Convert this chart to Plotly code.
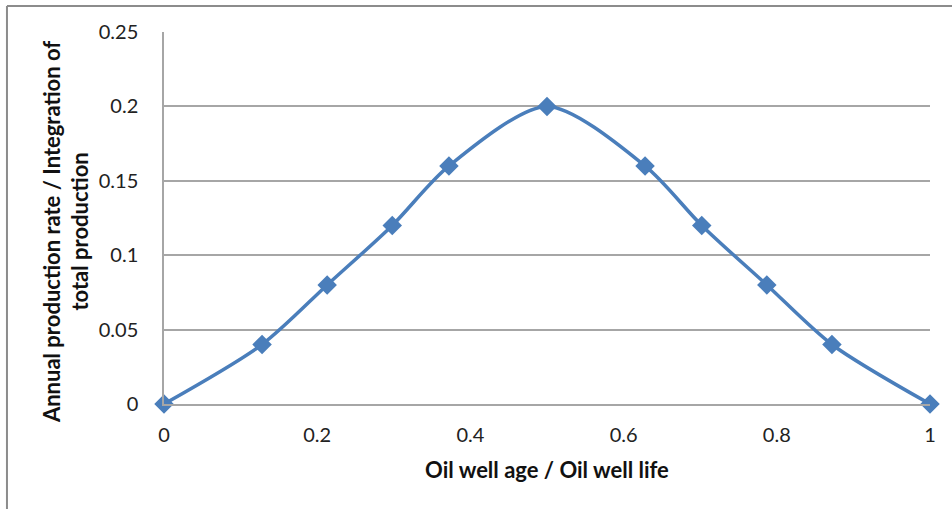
import plotly.graph_objects as go

x_vals = [0, 0.128, 0.213, 0.298, 0.372, 0.5, 0.628, 0.702, 0.787, 0.872, 1]
y_vals = [0, 0.04, 0.08, 0.12, 0.16, 0.2, 0.16, 0.12, 0.08, 0.04, 0]
x_ticks = [0, 0.2, 0.4, 0.6, 0.8, 1]
x_tick_text = ["0", "0.2", "0.4", "0.6", "0.8", "1"]
y_ticks = [0, 0.05, 0.1, 0.15, 0.2, 0.25]
y_tick_text = ["0", "0.05", "0.1", "0.15", "0.2", "0.25"]

fig = go.Figure()
fig.add_trace(go.Scatter(
    x=x_vals, y=y_vals, mode="lines+markers",
    line=dict(color="#4A7EBB", width=3.5, shape="spline", smoothing=0.8),
    marker=dict(symbol="diamond", size=15, color="#4A7EBB"),
    showlegend=False, cliponaxis=False,
))

font_family = "Lato, Carlito, 'Open Sans', sans-serif"
fig.update_layout(
    width=952, height=509,
    margin=dict(l=164, r=22, t=32, b=105),
    paper_bgcolor="white", plot_bgcolor="white",
    font=dict(family=font_family, color="#222222"),
    xaxis=dict(
        range=[0, 1], tickvals=x_ticks, ticktext=x_tick_text,
        showgrid=False, zeroline=False, showline=True, linecolor="#A6A6A6", linewidth=1.5,
        tickfont=dict(size=20, color="#222222"), ticks="", ticklabelstandoff=12,
        title=dict(text="<b>Oil well age / Oil well life</b>", font=dict(size=22, color="#111111"), standoff=18),
        fixedrange=True,
    ),
    yaxis=dict(
        range=[0, 0.25], tickvals=y_ticks, ticktext=y_tick_text,
        showgrid=True, gridcolor="#A6A6A6", gridwidth=1.5, zeroline=False,
        showline=True, linecolor="#A6A6A6", linewidth=1.5,
        tickfont=dict(size=20, color="#222222"), ticks="", ticklabelstandoff=20,
        fixedrange=True,
    ),
    annotations=[
        dict(text="<b>Annual production rate / Integration of<br>total production</b>",
             xref="paper", yref="paper", x=-0.128, y=0.462, xanchor="center", yanchor="middle",
             textangle=-90, showarrow=False, font=dict(size=22, color="#111111")),
    ],
    shapes=[
        dict(type="line", xref="paper", yref="paper", x0=-0.205, x1=-0.205, y0=-0.5, y1=1.07,
             line=dict(color="#8C8C8C", width=2)),
        dict(type="line", xref="paper", yref="paper", x0=-0.205, x1=1.5, y0=1.07, y1=1.07,
             line=dict(color="#8C8C8C", width=2)),
    ],
)

fig.write_html("out.html", config={"displayModeBar": False},
               post_script="document.body.style.margin='0';document.body.style.overflow='hidden';")
